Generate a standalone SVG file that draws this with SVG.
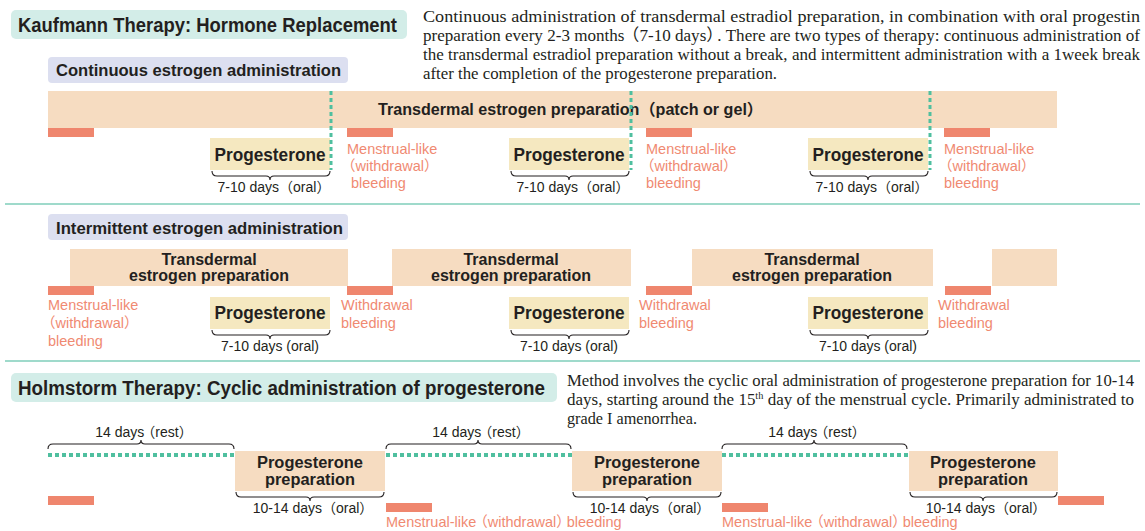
<svg xmlns="http://www.w3.org/2000/svg" width="1145" height="531" viewBox="0 0 1145 531">
<style>
.sans{font-family:"Liberation Sans","Noto Sans CJK JP",Arial,sans-serif;}
.serif{font-family:"Liberation Serif","Noto Sans CJK JP",serif;font-size:16.5px;fill:#231f20;}
.b{font-weight:bold;fill:#231f20;}
.title{font-size:19.5px;}
.sub{font-size:16px;}
.lbl{font-size:17.5px;}
.small{font-size:14px;fill:#231f20;}
.red{font-size:14.5px;fill:#f08a72;}
.tealbox{fill:#d3ede8;}
.lav{fill:#dcdff0;}
.peach{fill:#f6dcc1;}
.yel{fill:#f5e8c0;}
.bleed{fill:#ef866e;}
.vdash{stroke:#4fbf9f;stroke-width:3;stroke-dasharray:4 3;fill:none;}
.hdot{stroke:#4fbf9f;stroke-width:4;stroke-dasharray:4 3;fill:none;}
.brace{stroke:#231f20;stroke-width:1.1;fill:none;}
.sep{stroke:#9fdacb;stroke-width:2;}
</style>

<!-- separators -->
<line class="sep" x1="5" y1="204" x2="1140" y2="204"/>
<line class="sep" x1="5" y1="361" x2="1140" y2="361"/>

<!-- Section 1 header -->
<g id="kaufmann-title">
<rect class="tealbox" x="11" y="10" width="396" height="29" rx="5"/>
<text class="sans b title" x="18" y="32" textLength="379" lengthAdjust="spacingAndGlyphs">Kaufmann Therapy: Hormone Replacement</text>
</g>
<g id="kaufmann-desc">
<text class="serif" x="423" y="22" textLength="717" lengthAdjust="spacingAndGlyphs">Continuous administration of transdermal estradiol preparation, in combination with oral progestin</text>
<text class="serif" x="423" y="41" textLength="717" lengthAdjust="spacingAndGlyphs">preparation every 2-3 months<tspan dx="-2">（7-10 days）</tspan><tspan dx="-6">. There are two types of therapy: continuous administration of</tspan></text>
<text class="serif" x="423" y="60" textLength="717" lengthAdjust="spacingAndGlyphs">the transdermal estradiol preparation without a break, and intermittent administration with a 1week break</text>
<text class="serif" x="423" y="79" textLength="354" lengthAdjust="spacingAndGlyphs">after the completion of the progesterone preparation.</text>
</g>

<g id="continuous-label">
<rect class="lav" x="48" y="57" width="300" height="26" rx="4"/>
<text class="sans b sub" x="56" y="76" textLength="285" lengthAdjust="spacingAndGlyphs">Continuous estrogen administration</text>
</g>

<g id="continuous-estrogen-bar">
<rect class="peach" x="48" y="91" width="1009" height="37"/>
<text class="sans b sub" x="378" y="115" textLength="385" lengthAdjust="spacingAndGlyphs">Transdermal estrogen preparation（patch or gel）</text>
</g>

<g id="c-bleed-0"><rect class="bleed" x="48" y="128" width="46" height="9"/></g>

<g id="c-prog-1">
<rect class="yel" x="210" y="138" width="120" height="32"/>
<text class="sans b lbl" x="270" y="161" text-anchor="middle" textLength="111" lengthAdjust="spacingAndGlyphs">Progesterone</text>
<path class="brace" d="M212,171 q0,5 5,5 H266 q4,0 4,4 q0,-4 4,-4 H325 q5,0 5,-5"/>
<text class="sans small" x="274" y="192" text-anchor="middle">7-10 days（oral）</text>
</g>
<g id="c-bleed-1">
<rect class="bleed" x="347" y="128" width="46" height="9"/>
<text class="sans red" x="347" y="154">Menstrual-like</text>
<text class="sans red" x="341" y="171">（withdrawal）</text>
<text class="sans red" x="351" y="188">bleeding</text>
</g>

<g id="c-prog-2">
<rect class="yel" x="509" y="138" width="120" height="32"/>
<text class="sans b lbl" x="569" y="161" text-anchor="middle" textLength="111" lengthAdjust="spacingAndGlyphs">Progesterone</text>
<path class="brace" d="M511,171 q0,5 5,5 H565 q4,0 4,4 q0,-4 4,-4 H624 q5,0 5,-5"/>
<text class="sans small" x="573" y="192" text-anchor="middle">7-10 days（oral）</text>
</g>
<g id="c-bleed-2">
<rect class="bleed" x="646" y="128" width="46" height="9"/>
<text class="sans red" x="646" y="154">Menstrual-like</text>
<text class="sans red" x="640" y="171">（withdrawal）</text>
<text class="sans red" x="646" y="188">bleeding</text>
</g>

<g id="c-prog-3">
<rect class="yel" x="808" y="138" width="120" height="32"/>
<text class="sans b lbl" x="868" y="161" text-anchor="middle" textLength="111" lengthAdjust="spacingAndGlyphs">Progesterone</text>
<path class="brace" d="M810,171 q0,5 5,5 H864 q4,0 4,4 q0,-4 4,-4 H923 q5,0 5,-5"/>
<text class="sans small" x="872" y="192" text-anchor="middle">7-10 days（oral）</text>
</g>
<g id="c-bleed-3">
<rect class="bleed" x="944" y="128" width="46" height="9"/>
<text class="sans red" x="944" y="154">Menstrual-like</text>
<text class="sans red" x="938" y="171">（withdrawal）</text>
<text class="sans red" x="944" y="188">bleeding</text>
</g>

<!-- Section 2 -->
<g id="intermittent-label">
<rect class="lav" x="48" y="214" width="300" height="26" rx="4"/>
<text class="sans b sub" x="56" y="234" textLength="287" lengthAdjust="spacingAndGlyphs">Intermittent estrogen administration</text>
</g>

<g id="i-estrogen-1">
<rect class="peach" x="70" y="249" width="278" height="37"/>
<text class="sans b sub" x="209" y="265" text-anchor="middle">Transdermal</text>
<text class="sans b sub" x="209" y="281" text-anchor="middle">estrogen preparation</text>
</g>
<g id="i-estrogen-2">
<rect class="peach" x="392" y="249" width="239" height="37"/>
<text class="sans b sub" x="511" y="265" text-anchor="middle">Transdermal</text>
<text class="sans b sub" x="511" y="281" text-anchor="middle">estrogen preparation</text>
</g>
<g id="i-estrogen-3">
<rect class="peach" x="692" y="249" width="241" height="37"/>
<text class="sans b sub" x="812" y="265" text-anchor="middle">Transdermal</text>
<text class="sans b sub" x="812" y="281" text-anchor="middle">estrogen preparation</text>
</g>
<g id="i-estrogen-4">
<rect class="peach" x="992" y="249" width="65" height="37"/>
</g>

<g id="i-bleed-0">
<rect class="bleed" x="48" y="286" width="46" height="9"/>
<text class="sans red" x="48" y="310">Menstrual-like</text>
<text class="sans red" x="41" y="328">（withdrawal）</text>
<text class="sans red" x="48" y="346">bleeding</text>
</g>
<g id="i-prog-1">
<rect class="yel" x="210" y="297" width="120" height="32"/>
<text class="sans b lbl" x="270" y="319" text-anchor="middle" textLength="111" lengthAdjust="spacingAndGlyphs">Progesterone</text>
<path class="brace" d="M212,330 q0,5 5,5 H266 q4,0 4,4 q0,-4 4,-4 H325 q5,0 5,-5"/>
<text class="sans small" x="270" y="351" text-anchor="middle">7-10 days (oral)</text>
</g>
<g id="i-bleed-1">
<rect class="bleed" x="347" y="286" width="46" height="9"/>
<text class="sans red" x="341" y="310">Withdrawal</text>
<text class="sans red" x="341" y="328">bleeding</text>
</g>
<g id="i-prog-2">
<rect class="yel" x="509" y="297" width="120" height="32"/>
<text class="sans b lbl" x="569" y="319" text-anchor="middle" textLength="111" lengthAdjust="spacingAndGlyphs">Progesterone</text>
<path class="brace" d="M511,330 q0,5 5,5 H565 q4,0 4,4 q0,-4 4,-4 H624 q5,0 5,-5"/>
<text class="sans small" x="569" y="351" text-anchor="middle">7-10 days (oral)</text>
</g>
<g id="i-bleed-2">
<rect class="bleed" x="646" y="286" width="46" height="9"/>
<text class="sans red" x="639" y="310">Withdrawal</text>
<text class="sans red" x="639" y="328">bleeding</text>
</g>
<g id="i-prog-3">
<rect class="yel" x="808" y="297" width="120" height="32"/>
<text class="sans b lbl" x="868" y="319" text-anchor="middle" textLength="111" lengthAdjust="spacingAndGlyphs">Progesterone</text>
<path class="brace" d="M810,330 q0,5 5,5 H864 q4,0 4,4 q0,-4 4,-4 H923 q5,0 5,-5"/>
<text class="sans small" x="868" y="351" text-anchor="middle">7-10 days (oral)</text>
</g>
<g id="i-bleed-3">
<rect class="bleed" x="945" y="286" width="46" height="9"/>
<text class="sans red" x="938" y="310">Withdrawal</text>
<text class="sans red" x="938" y="328">bleeding</text>
</g>

<!-- Section 3 -->
<g id="holmstrom-title">
<rect class="tealbox" x="11" y="373" width="546" height="29" rx="5"/>
<text class="sans b title" x="18" y="395" textLength="527" lengthAdjust="spacingAndGlyphs">Holmstorm Therapy: Cyclic administration of progesterone</text>
</g>
<g id="holmstrom-desc">
<text class="serif" x="567" y="386" textLength="567" lengthAdjust="spacingAndGlyphs">Method involves the cyclic oral administration of progesterone preparation for 10-14</text>
<text class="serif" x="567" y="405" textLength="567" lengthAdjust="spacingAndGlyphs">days, starting around the 15<tspan font-size="10" dy="-6">th</tspan><tspan dy="6"> day of the menstrual cycle. Primarily administrated to</tspan></text>
<text class="serif" x="567" y="424" textLength="130" lengthAdjust="spacingAndGlyphs">grade I amenorrhea.</text>
</g>

<g id="h-rest-1">
<text class="sans small" x="144" y="437" text-anchor="middle">14 days<tspan dx="-3">（rest）</tspan></text>
<path class="brace" d="M48,449 q0,-5 5,-5 H137 q4,0 4,-4 q0,4 4,4 H229 q5,0 5,5"/>
</g>
<g id="h-rest-2">
<text class="sans small" x="481" y="437" text-anchor="middle">14 days<tspan dx="-3">（rest）</tspan></text>
<path class="brace" d="M386,449 q0,-5 5,-5 H474 q4,0 4,-4 q0,4 4,4 H566 q5,0 5,5"/>
</g>
<g id="h-rest-3">
<text class="sans small" x="817" y="437" text-anchor="middle">14 days<tspan dx="-3">（rest）</tspan></text>
<path class="brace" d="M722,449 q0,-5 5,-5 H810 q4,0 4,-4 q0,4 4,4 H902 q5,0 5,5"/>
</g>

<g id="h-prog-1">
<rect class="peach" x="235" y="451" width="150" height="40"/>
<text class="sans b sub" x="310" y="468" text-anchor="middle" textLength="106" lengthAdjust="spacingAndGlyphs">Progesterone</text>
<text class="sans b sub" x="310" y="485" text-anchor="middle" textLength="90" lengthAdjust="spacingAndGlyphs">preparation</text>
<path class="brace" d="M236,492 q0,5 5,5 H306 q4,0 4,4 q0,-4 4,-4 H379 q5,0 5,-5"/>
<text class="sans small" x="313" y="513" text-anchor="middle">10-14 days（oral）</text>
</g>
<g id="h-prog-2">
<rect class="peach" x="572" y="451" width="150" height="40"/>
<text class="sans b sub" x="647" y="468" text-anchor="middle" textLength="106" lengthAdjust="spacingAndGlyphs">Progesterone</text>
<text class="sans b sub" x="647" y="485" text-anchor="middle" textLength="90" lengthAdjust="spacingAndGlyphs">preparation</text>
<path class="brace" d="M573,492 q0,5 5,5 H643 q4,0 4,4 q0,-4 4,-4 H716 q5,0 5,-5"/>
<text class="sans small" x="650" y="513" text-anchor="middle">10-14 days（oral）</text>
</g>
<g id="h-prog-3">
<rect class="peach" x="909" y="451" width="149" height="40"/>
<text class="sans b sub" x="983" y="468" text-anchor="middle" textLength="106" lengthAdjust="spacingAndGlyphs">Progesterone</text>
<text class="sans b sub" x="983" y="485" text-anchor="middle" textLength="90" lengthAdjust="spacingAndGlyphs">preparation</text>
<path class="brace" d="M910,492 q0,5 5,5 H979 q4,0 4,4 q0,-4 4,-4 H1052 q5,0 5,-5"/>
<text class="sans small" x="986" y="513" text-anchor="middle">10-14 days（oral）</text>
</g>

<g id="h-bleed-0"><rect class="bleed" x="48" y="496" width="46" height="9"/></g>
<g id="h-bleed-1">
<rect class="bleed" x="386" y="503" width="46" height="9"/>
<text class="sans red" x="386" y="527" font-size="14">Menstrual-like<tspan dx="-3">（withdrawal）</tspan><tspan dx="-4">bleeding</tspan></text>
</g>
<g id="h-bleed-2">
<rect class="bleed" x="722" y="503" width="46" height="9"/>
<text class="sans red" x="722" y="527" font-size="14">Menstrual-like<tspan dx="-3">（withdrawal）</tspan><tspan dx="-4">bleeding</tspan></text>
</g>
<g id="h-bleed-3"><rect class="bleed" x="1058" y="496" width="46" height="9"/></g>

<!-- connectors: dashed markers -->
<g id="connectors">
<line class="vdash" x1="331" y1="91" x2="331" y2="170"/>
<line class="vdash" x1="631" y1="91" x2="631" y2="170"/>
<line class="vdash" x1="930" y1="91" x2="930" y2="170"/>
<line class="hdot" x1="48" y1="455" x2="235" y2="455"/>
<line class="hdot" x1="386" y1="455" x2="572" y2="455"/>
<line class="hdot" x1="722" y1="455" x2="909" y2="455"/>
</g>
</svg>
